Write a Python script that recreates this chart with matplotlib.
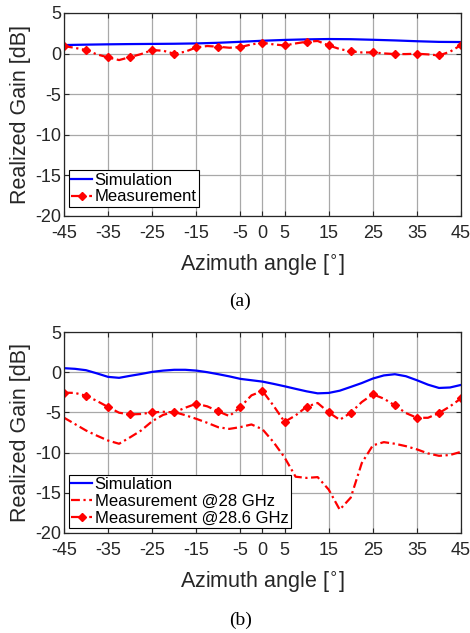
import numpy as np
import matplotlib
matplotlib.use("Agg")
import matplotlib.pyplot as plt

# ---------------- data ----------------
# angles in degrees
ang_marker = [-45, -40, -35, -30, -25, -20, -15, -10, -5, 0,
              5, 10, 15, 20, 25, 30, 35, 40, 45]
ang_fine = [-45, -42.5, -40, -37.5, -35, -32.5, -30, -27.5, -25, -22.5,
            -20, -17.5, -15, -12.5, -10, -7.5, -5, -2.5, 0, 2.5,
            5, 7.5, 10, 12.5, 15, 17.5, 20, 22.5, 25, 27.5,
            30, 32.5, 35, 37.5, 40, 42.5, 45]

# (a) realized gain [dB]
sim_a = [1.05, 1.10, 1.14, 1.17, 1.19, 1.21, 1.25, 1.33, 1.45, 1.58,
         1.68, 1.75, 1.79, 1.77, 1.70, 1.62, 1.52, 1.44, 1.42]
meas_a = [0.93, 0.70, 0.43, -0.10, -0.47, -0.80, -0.43, -0.06, 0.43, 0.35,
          -0.02, 0.23, 0.76, 0.93, 0.84, 0.72, 0.80, 1.13, 1.34, 1.13,
          1.00, 1.25, 1.46, 1.55, 1.00, 0.56, 0.27, 0.14, 0.14, 0.02,
          -0.06, -0.06, -0.02, -0.10, -0.23, 0.23, 1.05]

# (b) realized gain [dB]
sim_b = [0.50, 0.42, 0.25, -0.15, -0.58, -0.70, -0.45, -0.22, 0.04, 0.20,
         0.30, 0.30, 0.20, 0.00, -0.25, -0.52, -0.83, -1.00, -1.17, -1.45,
         -1.75, -2.07, -2.38, -2.63, -2.58, -2.30, -1.83, -1.35, -0.79, -0.40,
         -0.25, -0.50, -1.00, -1.55, -1.96, -1.90, -1.58]
meas_28 = [-5.65, -6.45, -7.25, -7.90, -8.50, -8.90, -8.10, -7.25, -6.10, -5.30,
           -4.95, -5.35, -5.80, -6.30, -6.85, -7.05, -6.83, -6.50, -7.10, -8.70,
           -10.60, -13.00, -13.15, -13.05, -14.60, -17.10, -15.60, -11.30, -9.10, -8.70,
           -8.90, -9.20, -9.60, -10.10, -10.40, -10.30, -9.90]
meas_286 = [-2.54, -2.58, -2.92, -3.58, -4.33, -5.04, -5.25, -5.20, -5.00, -4.92,
            -5.00, -4.42, -3.92, -4.25, -4.88, -5.46, -4.33, -2.88, -2.33, -4.17,
            -6.17, -5.38, -4.29, -3.83, -5.00, -5.92, -5.04, -3.71, -2.75, -3.29,
            -4.13, -5.08, -5.67, -5.67, -5.08, -4.25, -3.25]

xticks = [-45, -35, -25, -15, -5, 0, 5, 15, 25, 35, 45]
yticks = [-20, -15, -10, -5, 0, 5]

# ---------------- style ----------------
plt.rcParams['font.family'] = ['Liberation Sans', 'DejaVu Sans']
TXT = '#262626'
DASHDOT = (0, (4.0, 1.6, 1.0, 1.6))

fig = plt.figure(figsize=(4.70, 6.33), dpi=100)
ax_a = fig.add_axes([0.136, 0.6588, 0.845, 0.3207])
ax_b = fig.add_axes([0.136, 0.1580, 0.845, 0.3175])


def style_axes(ax):
    ax.set_xlim(-45, 45)
    ax.set_ylim(-20, 5)
    ax.set_xticks(xticks)
    ax.set_yticks(yticks)
    ax.set_xticklabels([str(t) for t in xticks])
    ax.set_yticklabels([str(t) for t in yticks])
    ax.grid(True, color='#a8a8a8', linewidth=0.9)
    ax.set_axisbelow(True)
    ax.tick_params(direction='in', length=3.5, width=0.8, top=True, right=True,
                   labelsize=13, colors=TXT)
    ax.tick_params(axis='x', pad=6.5)
    ax.tick_params(axis='y', pad=2)
    for s in ax.spines.values():
        s.set_color(TXT)
        s.set_linewidth(0.9)
    ax.set_xlabel('Azimuth angle [$^{\\circ}$]', fontsize=15.5, color=TXT, labelpad=8)
    ax.set_ylabel('Realized Gain [dB]', fontsize=15.5, color=TXT, labelpad=3)


# (a)
ax_a.plot(ang_marker, sim_a, color='#0000ff', lw=1.6, label='Simulation')
ax_a.plot(ang_fine, meas_a, color='#ff0000', lw=1.6, ls=DASHDOT,
          marker='D', markersize=4.4, markevery=2, label='Measurement')
style_axes(ax_a)
leg_a = ax_a.legend(loc='lower left', bbox_to_anchor=(0.0, 0.02), fontsize=12,
                    handlelength=1.25, handletextpad=0.15, borderpad=0.15,
                    labelspacing=0.1, borderaxespad=0.3, fancybox=False,
                    framealpha=1, edgecolor='black')
leg_a.get_frame().set_linewidth(0.8)

# (b)
ax_b.plot(ang_fine, sim_b, color='#0000ff', lw=1.6, label='Simulation')
ax_b.plot(ang_fine, meas_28, color='#ff0000', lw=1.6, ls=DASHDOT,
          label='Measurement @28 GHz')
ax_b.plot(ang_fine, meas_286, color='#ff0000', lw=1.6, ls=DASHDOT,
          marker='D', markersize=4.4, markevery=2, label='Measurement @28.6 GHz')
style_axes(ax_b)
leg_b = ax_b.legend(loc='lower left', bbox_to_anchor=(0.0, 0.0), fontsize=12,
                    handlelength=1.25, handletextpad=0.15, borderpad=0.15,
                    labelspacing=0.1, borderaxespad=0.3, fancybox=False,
                    framealpha=1, edgecolor='black')
leg_b.get_frame().set_linewidth(0.8)

# sub-figure captions
fig.text(0.511, 1 - 301 / 633, '(a)', ha='center', va='center',
         fontsize=14, family='Liberation Serif', color='black')
fig.text(0.511, 1 - 620 / 633, '(b)', ha='center', va='center',
         fontsize=14, family='Liberation Serif', color='black')

fig.savefig('out.png', dpi=100)
